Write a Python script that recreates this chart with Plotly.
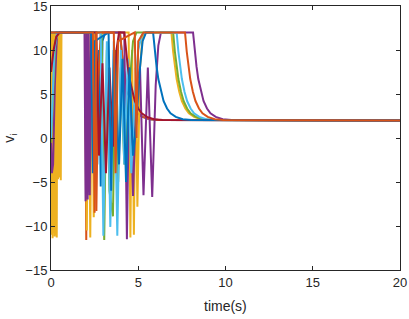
import plotly.graph_objects as go

COLORS = ["#0072BD", "#D95319", "#EDB120", "#7E2F8E", "#77AC30",
          "#4DBEEE", "#A2142F", "#0072BD", "#D95319"]

# per-agent key points (time, velocity) before the final decay
T1 = [0, 0.15, 0.3, 2.55, 2.65, 2.75, 2.85, 2.95, 3.1, 3.3]
V1 = [11, 11.6, 12, 12, -3, 10, -5.5, 11, 12, 12]

T2 = [0, 1.95, 2.02, 2.1, 2.5, 2.6, 2.7, 2.85]
V2 = [12, 12, -11.6, 12, 12, -8.3, 6, 12]

T3 = [0, 0.03, 0.06, 0.09, 0.12, 0.15, 0.18, 0.21, 0.24, 0.27, 0.3, 0.33, 0.36,
      0.4, 0.44, 0.48, 0.52, 0.56, 0.6, 0.64, 1.95, 2.05, 2.15, 2.25, 2.35,
      2.45, 2.55, 4.45, 4.55, 4.65, 4.75, 4.85, 4.95, 5.1, 5.25, 5.4]
V3 = [12, -11, 12, -11.4, 12, -10.8, 12, -11.2, 12, -11, 12, -11.3, 12,
      -4.7, 12, -4.5, 12, -4.8, 12, 12, 12, -10.5, 12, -11.3, 12,
      -9, 12, 12, -11.3, 10, -11, 8, -7.8, 8, 11.5, 12]

T4 = [0, 0.05, 0.12, 0.22, 0.35, 1.92, 1.98, 2.04, 2.1, 2.16, 2.22, 2.3,
      4.2, 4.35, 4.5, 4.7, 4.9, 5.1, 5.3, 5.55, 5.8, 6.0, 6.15, 6.3]
V4 = [-0.5, -4, -3, 6, 12, 12, -7.2, 12, -7, 12, -6.5, 12,
      12, -11.5, 8, -6.6, 6, 8, -6.5, 8, -6.7, 6, 10.5, 12]

T5 = [0, 0.1, 0.25, 0.4, 2.9, 3.05, 3.2, 3.35, 3.55, 3.7, 3.85, 4.0, 4.2,
      4.5, 4.7, 4.9]
V5 = [-0.5, 4, 11, 12, 12, -11.6, 10, -6, -8.9, 10, -5, 8, -3,
      6, 11, 12]

T6 = [0, 0.1, 0.2, 0.35, 2.85, 3.0, 3.2, 3.4, 3.6, 3.8, 4.0, 4.2, 4.4,
      4.6, 4.8, 5.0, 5.2, 5.4]
V6 = [0, 6, 10, 12, 12, -11.1, 11, -10.1, 11, -11.1, 10, -3, 9,
      -4, 5, 10, 11.7, 12]

T7 = [0, 0.15, 0.3, 0.5, 2.6, 2.75, 2.95, 3.15, 3.35, 3.55, 3.75, 3.9]
V7 = [7.5, 10, 11.5, 12, 12, -2, 8.5, -4, 8, -1, 10, 12]

T8 = [0, 2.3, 2.4, 2.5, 3.3, 3.45, 3.6, 3.9, 4.1, 4.3, 4.5, 4.7, 4.9,
      5.1, 5.25, 5.45]
V8 = [12, 12, -4, 11, 12, -6, 10, -3, 9, -5, 8, -2, 2,
      8, 11, 12]

T9 = [0, 2.4, 2.5, 2.6, 3.6, 3.7, 3.85, 4.8, 4.9, 5.0, 5.3]
V9 = [12, 12, -8.5, 12, 12, -4, 11, 12, 0, 11, 12]

AGENT_T = [T1, T2, T3, T4, T5, T6, T7, T8, T9]
AGENT_V = [V1, V2, V3, V4, V5, V6, V7, V8, V9]
DECAY_START = [3.95, 3.95, 6.9, 8.14, 7.0, 7.2, 4.2, 5.85, 7.68]

# shape of the drop from the upper bound to the consensus value
DECAY_DT = [0, 0.1, 0.2, 0.3, 0.45, 0.6, 0.8, 1.0, 1.3, 1.7, 2.2]
DECAY_V = [12, 9.8, 8.1, 6.7, 5.25, 4.2, 3.35, 2.8, 2.4, 2.14, 2.04]
T_END = 20
V_FINAL = 2

X_TICKS = [0, 5, 10, 15, 20]
Y_TICKS = [-15, -10, -5, 0, 5, 10, 15]

FONT = "Liberation Sans, Arial, sans-serif"
INK = "#262626"

fig = go.Figure()
for t, v, t0, c in zip(AGENT_T, AGENT_V, DECAY_START, COLORS):
    xs = list(t) + [t0 + d for d in DECAY_DT] + [T_END]
    ys = list(v) + list(DECAY_V) + [V_FINAL]
    fig.add_trace(go.Scatter(x=xs, y=ys, mode="lines",
                             line=dict(color=c, width=2),
                             showlegend=False, hoverinfo="skip"))

axis_common = dict(showline=True, linecolor=INK, linewidth=1,
                   mirror="ticks", ticks="inside", ticklen=4,
                   tickcolor=INK, showgrid=False, zeroline=False,
                   automargin=False, ticklabeloverflow="allow",
                   tickfont=dict(family=FONT, size=13, color=INK))

fig.update_layout(
    width=409, height=319,
    margin=dict(l=51, r=9, t=6, b=49, autoexpand=False),
    plot_bgcolor="white", paper_bgcolor="white",
    xaxis=dict(range=[0, 20], tickvals=X_TICKS, **axis_common),
    yaxis=dict(range=[-15, 15], tickvals=Y_TICKS, **axis_common),
    annotations=[
        dict(text="time(s)", xref="paper", yref="paper", x=0.5, y=-0.136,
             xanchor="center", yanchor="middle", showarrow=False,
             font=dict(family=FONT, size=14, color=INK)),
        dict(text="v<sub>i</sub>", xref="paper", yref="paper", x=-0.118,
             y=0.5, xanchor="center", yanchor="middle", showarrow=False,
             textangle=-90, font=dict(family=FONT, size=14, color=INK)),
    ],
)

fig.write_html(
    "out.html",
    config={"displayModeBar": False},
    post_script="document.body.style.margin='0';document.body.style.padding='0';",
)
